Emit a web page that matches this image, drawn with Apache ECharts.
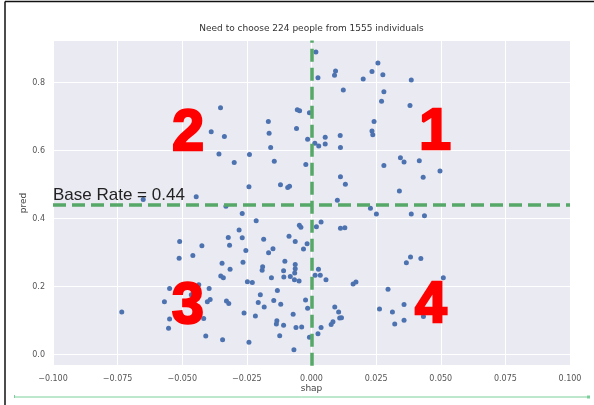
<!DOCTYPE html>
<html><head><meta charset="utf-8">
<script src="https://cdn.jsdelivr.net/npm/echarts/dist/echarts.min.js"></script>
<style>html,body{margin:0;padding:0;background:#fff}#c{width:594px;height:405px}</style>
</head><body><div id="c"></div>
<script>
// ---- data ----
const shapValues = [
 0.0017,0.0093,0.0089,0.0025,0.0123,-0.0352,-0.0055,-0.0046,-0.0008,-0.0167,
 -0.0388,-0.0337,-0.0058,-0.0164,0.0111,0.0053,-0.0015,0.0013,0.0028,0.0053,
 -0.0158,0.0112,-0.0358,-0.0240,-0.0299,-0.0144,-0.0022,0.0112,0.0131,-0.0242,
 -0.0120,-0.0092,-0.0085,0.0100,-0.0446,-0.0651,0.0257,0.0234,0.0276,0.0200,
 0.0386,0.0280,0.0271,0.0381,0.0242,0.0234,0.0237,0.0344,0.0358,0.0417,
 0.0280,0.0497,0.0432,0.0340,0.0228,0.0251,0.0386,0.0437,0.0037,0.0019,
 0.0112,0.0129,-0.0017,-0.0031,0.0383,0.0367,0.0423,0.0027,0.0014,0.0034,
 0.0056,0.0161,0.0172,0.0510,0.0479,0.0296,-0.0023,-0.0015,0.0090,0.0105,
 0.0109,0.0116,0.0263,0.0313,0.0358,0.0358,0.0322,0.0433,0.0076,0.0083,
 0.0037,-0.0038,0.0025,-0.0008,-0.0734,-0.0510,-0.0512,-0.0424,-0.0459,-0.0346,
 -0.0315,-0.0351,-0.0341,-0.0549,-0.0436,-0.0396,-0.0465,-0.0569,-0.0403,-0.0392,
 -0.0329,-0.0320,-0.0549,-0.0553,-0.0417,-0.0409,-0.0344,-0.0322,-0.0317,-0.0331,
 -0.0268,-0.0214,-0.0047,-0.0041,-0.0280,-0.0268,-0.0185,-0.0087,-0.0063,-0.0254,
 -0.0149,-0.0166,-0.0265,-0.0191,-0.0189,-0.0103,-0.0063,-0.0063,-0.0065,-0.0108,
 -0.0107,-0.0082,-0.0066,-0.0048,-0.0155,-0.0248,-0.0229,-0.0132,-0.0198,-0.0206,
 -0.0183,-0.0146,-0.0119,-0.0261,-0.0217,-0.0071,-0.0134,-0.0136,-0.0108,-0.0060,
 -0.0242,-0.0123,-0.0068
];
const predValues = [
 0.890,0.834,0.821,0.814,0.778,0.726,0.720,0.717,0.711,0.685,
 0.655,0.641,0.665,0.651,0.644,0.639,0.633,0.621,0.613,0.619,
 0.609,0.609,0.590,0.588,0.565,0.568,0.559,0.523,0.501,0.493,
 0.499,0.491,0.495,0.454,0.464,0.456,0.857,0.832,0.823,0.810,
 0.807,0.773,0.745,0.732,0.685,0.657,0.646,0.579,0.566,0.570,
 0.556,0.540,0.521,0.481,0.430,0.413,0.413,0.408,0.390,0.376,
 0.371,0.373,0.326,0.310,0.287,0.270,0.282,0.251,0.233,0.233,
 0.220,0.207,0.213,0.226,0.204,0.192,0.160,0.136,0.140,0.125,
 0.107,0.108,0.134,0.125,0.147,0.101,0.090,0.112,0.088,0.096,
 0.079,0.081,0.061,0.051,0.125,0.332,0.283,0.320,0.291,0.268,
 0.251,0.231,0.226,0.194,0.205,0.194,0.176,0.155,0.155,0.162,
 0.157,0.150,0.104,0.077,0.106,0.054,0.043,0.344,0.321,0.436,
 0.415,0.393,0.380,0.374,0.366,0.343,0.339,0.348,0.332,0.306,
 0.311,0.299,0.271,0.248,0.258,0.274,0.265,0.252,0.240,0.246,
 0.228,0.229,0.220,0.216,0.226,0.214,0.212,0.188,0.176,0.153,
 0.140,0.159,0.148,0.122,0.113,0.118,0.099,0.090,0.086,0.079,
 0.036,0.055,0.014
];
const xTickValues = [-0.100,-0.075,-0.050,-0.025,0.000,0.025,0.050,0.075,0.100];
const yTickValues = [0.0,0.2,0.4,0.6,0.8];
const baseRate = 0.44;
const shapCut = 0.0;
const quadrantNames = ['1','2','3','4'];
const quadrantShap = [0.0478,-0.0477,-0.0478,0.0462];
const quadrantPred = [0.650,0.648,0.140,0.141];
const chartTitle = 'Need to choose 224 people from 1555 individuals';
const baseRateText = 'Base Rate = 0.44';

// ---- build ----
const points = shapValues.map((s, i) => [s, predValues[i]]);
const quad = quadrantNames.map((n, i) => ({ name: n, value: [quadrantShap[i], quadrantPred[i]] }));
const fmtTick = v => v.toFixed(3).replace('-', '\u2212');
const chart = echarts.init(document.getElementById('c'), null, { renderer: 'canvas' });
const tickFont = 'DejaVu Sans';
chart.setOption({
  animation: false,
  backgroundColor: '#ffffff',
  grid: { left: 53, right: 24, top: 40.5, bottom: 39.3, show: true, backgroundColor: '#EAEAF2', borderWidth: 0 },
  xAxis: {
    type: 'value', min: -0.1, max: 0.1, interval: 0.025,
    axisLine: { show: false }, axisTick: { show: false },
    splitLine: { show: true, lineStyle: { color: '#ffffff', width: 1 } },
    axisLabel: { color: '#555', fontSize: 8, fontFamily: tickFont, margin: 9,
      formatter: v => xTickValues.some(t => Math.abs(t - v) < 1e-9) ? fmtTick(v) : '' },
    name: 'shap', nameLocation: 'middle', nameGap: 18, nameMoveOverlap: false,
    nameTextStyle: { color: '#444', fontSize: 9, fontFamily: tickFont }
  },
  yAxis: {
    type: 'value', min: -0.033, max: 0.9235, splitNumber: 5,
    axisLine: { show: false }, axisTick: { show: false },
    splitLine: { show: true, lineStyle: { color: '#ffffff', width: 1 } },
    axisLabel: { color: '#555', fontSize: 8, fontFamily: tickFont, margin: 8, showMinLabel: false, showMaxLabel: false,
      formatter: v => yTickValues.some(t => Math.abs(t - v) < 1e-9) ? v.toFixed(1) : '' },
    name: 'pred', nameLocation: 'middle', nameGap: 25, nameRotate: 90, nameMoveOverlap: false,
    nameTextStyle: { color: '#444', fontSize: 9, fontFamily: tickFont }
  },
  series: [
    {
      type: 'scatter', data: points, symbolSize: 5, z: 2,
      itemStyle: { color: '#4C72B0', opacity: 1 },
      markLine: {
        silent: true, symbol: 'none', z: 5, animation: false,
        label: { show: false },
        lineStyle: { color: '#55A868', width: 3.5, type: [13, 6], opacity: 1 },
        data: [ { yAxis: baseRate }, { xAxis: shapCut } ]
      }
    },
    {
      type: 'scatter', data: quad, symbolSize: 0, zlevel: 1, z: 10, silent: true,
      itemStyle: { opacity: 1 },
      label: { show: true, position: 'inside', formatter: p => p.name,
        color: '#FF0000', fontSize: 57, fontWeight: 900, fontFamily: 'Liberation Sans',
        textBorderColor: '#FF0000', textBorderWidth: 2.5 }
    }
  ],
  graphic: [
    { type: 'text', x: 311.5, y: 28.5, z: 20, style: { text: chartTitle, fill: '#333', font: '9px "DejaVu Sans"', textAlign: 'center', textVerticalAlign: 'middle' } },
    { type: 'text', x: 53, y: 204, z: 20, style: { text: baseRateText, fill: '#222', font: '17px "Liberation Sans"', textAlign: 'left', textVerticalAlign: 'bottom' } },
    { type: 'line', z: 20, shape: { x1: 5, y1: 1.5, x2: 594, y2: 1.5 }, style: { stroke: '#111', lineWidth: 1.5 } },
    { type: 'line', z: 20, shape: { x1: 5, y1: 1.5, x2: 5, y2: 405 }, style: { stroke: '#111', lineWidth: 1.5 } },
    { type: 'line', z: 20, shape: { x1: 14.5, y1: 397, x2: 588, y2: 397 }, style: { stroke: '#7CCF9C', lineWidth: 1 } },
    { type: 'line', z: 20, shape: { x1: 14.5, y1: 395, x2: 14.5, y2: 398 }, style: { stroke: '#7CCF9C', lineWidth: 1 } },
    { type: 'rect', z: 20, shape: { x: 587, y: 395.5, width: 3, height: 3 }, style: { fill: '#7CCF9C' } }
  ]
});
</script></body></html>
